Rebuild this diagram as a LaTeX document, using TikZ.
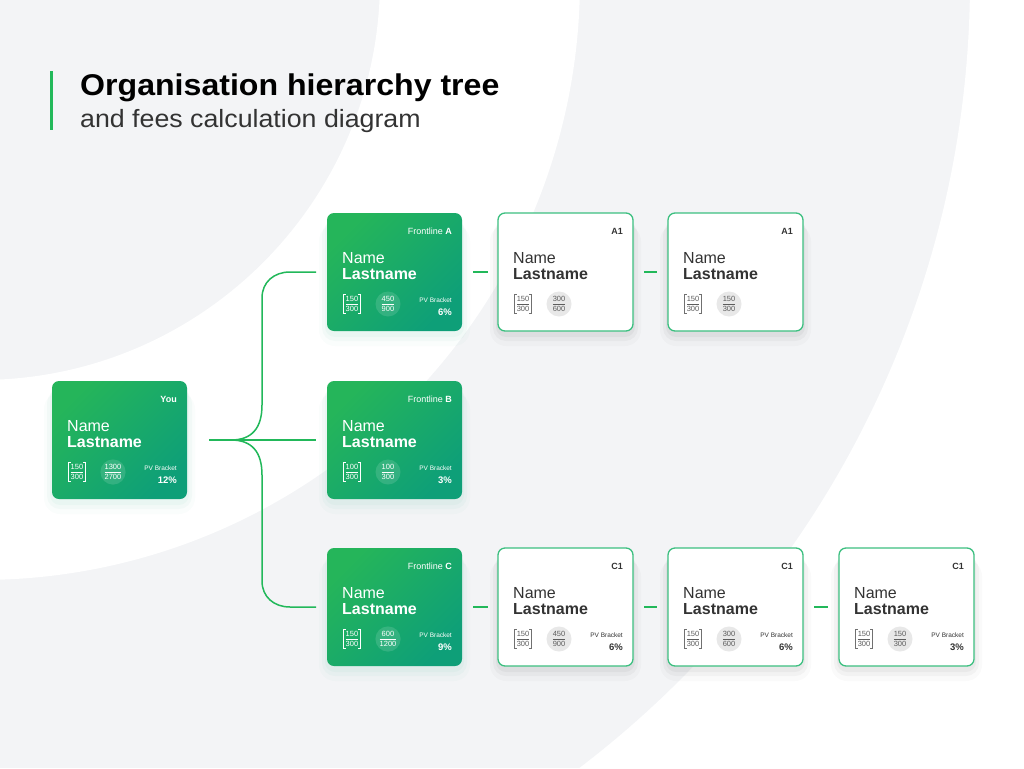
\documentclass[tikz,border=0pt]{standalone}
\usepackage{fontspec}
\setmainfont{Liberation Sans}
\usetikzlibrary{positioning}
\definecolor{gtop}{HTML}{25B55A}
\definecolor{gbot}{HTML}{0E9F78}
\definecolor{glink}{HTML}{22B85A}
\definecolor{wedge}{HTML}{3CBF80}
\definecolor{ink}{HTML}{333333}
\definecolor{bgray}{HTML}{F3F4F6}
\tikzset{
    x=1pt, y=-1pt,
    gcard/.style={rounded corners=7pt,minimum width=135pt,minimum height=118pt,inner sep=0pt,outer sep=0pt,
        top color=gtop,bottom color=gbot,shading angle=45},
    wcard/.style={rounded corners=7pt,minimum width=135pt,minimum height=118pt,inner sep=0pt,outer sep=0pt,
        draw=wedge,line width=1.3pt,fill=white},
    gcard shd/.style={fill=gbot},
    wcard shd/.style={fill=black},
    gcard txt/.style={text=white,inner sep=0pt},
    wcard txt/.style={text=ink,inner sep=0pt},
    gcard num/.style={text=white,inner xsep=2pt,inner ysep=0pt,font=\fontsize{7.5}{8.5}\selectfont},
    wcard num/.style={text=ink!80,inner xsep=2pt,inner ysep=0pt,font=\fontsize{7.5}{8.5}\selectfont},
    gcard brk/.style={draw=white,line width=0.5pt},
    wcard brk/.style={draw=ink!70,line width=0.5pt},
    gcard circ/.style={circle,minimum size=25pt,inner sep=0pt,fill=white,fill opacity=0.13,text opacity=1,
        text=white,font=\fontsize{7.5}{8.5}\selectfont},
    wcard circ/.style={circle,minimum size=25pt,inner sep=0pt,fill=black!9,
        text=ink!80,font=\fontsize{7.5}{8.5}\selectfont},
    link/.style={draw=glink,line width=1.5pt},
}
\newcommand{\frc}[2]{{\renewcommand{\arraystretch}{0}%
    \begin{tabular}{@{}c@{}}\rule[-2.5pt]{0pt}{9pt}#1\\\hline\rule[-1.5pt]{0pt}{9.5pt}#2\end{tabular}}}
% id, style, top-left, tag, bracket, circle, pv
\newcommand{\card}[9]{%
    \coordinate (#1-tl) at (#3);
    \fill[#2 shd,opacity=0.035,rounded corners=10pt] ([shift={(-2,6)}]#1-tl) rectangle ([shift={(137,124)}]#1-tl);
    \fill[#2 shd,opacity=0.03,rounded corners=13pt] ([shift={(-5,9)}]#1-tl) rectangle ([shift={(140,128)}]#1-tl);
    \fill[#2 shd,opacity=0.02,rounded corners=16pt] ([shift={(-8,12)}]#1-tl) rectangle ([shift={(143,133)}]#1-tl);
    \node[#2,anchor=north west] (#1) at (#1-tl) {};
    \node[#2 txt,anchor=base east,font=\fontsize{9}{10}\selectfont] at ([shift={(-10,21)}]#1.north west -| #1.east) {#4};
    \node[#2 txt,anchor=base west,font=\fontsize{16}{18}\selectfont] at ([shift={(15,50)}]#1.north west) {Name};
    \node[#2 txt,anchor=base west,font=\bfseries\fontsize{16}{18}\selectfont] at ([shift={(15,66)}]#1.north west) {Lastname};
    \node[#2 num] (#1-b) at ([shift={(25,91)}]#1.north west) {\frc{#5}{#6}};
    \draw[#2 brk] ([xshift=2pt]#1-b.north west) -- (#1-b.north west) -- (#1-b.south west) -- ([xshift=2pt]#1-b.south west);
    \draw[#2 brk] ([xshift=-2pt]#1-b.north east) -- (#1-b.north east) -- (#1-b.south east) -- ([xshift=-2pt]#1-b.south east);
    \node[#2 circ] (#1-c) at ([shift={(61,91)}]#1.north west) {\frc{#7}{#8}};
    \def\pvval{#9}%
    \ifx\pvval\empty\else
        \node[#2 txt,anchor=base east,font=\fontsize{6.5}{7.5}\selectfont] at ([shift={(-10,89)}]#1.north west -| #1.east) {PV Bracket};
        \node[#2 txt,anchor=base east,font=\bfseries\fontsize{9.5}{11}\selectfont] at ([shift={(-10,102)}]#1.north west -| #1.east) {#9};
    \fi
}

\begin{document}
\begin{tikzpicture}
    \useasboundingbox (0,0) rectangle (1024,768);
    % background rings
    \begin{scope}
        \clip (0,0) rectangle (1024,768);
        \fill[bgray] (0,0) rectangle (1024,768);
        \fill[white,even odd rule] (-20,-20) circle (600pt) (-20,-20) circle (400pt);
        \fill[white,even odd rule] (-20,-20) circle (1600pt) (-20,-20) circle (990pt);
    \end{scope}

    % title
    \fill[glink] (50,71) rectangle (53,130);
    \node[anchor=base west,inner sep=0pt,font=\bfseries\fontsize{30}{34}\selectfont] (title) at (80,95) {\scalebox{1.07}[1]{Organisation hierarchy tree}};
    \node[anchor=base west,inner sep=0pt,font=\fontsize{25}{29}\selectfont,text=black!80] (subtitle) at (80,127) {\scalebox{1.07}[1]{and fees calculation diagram}};

    % cards
    \card{you}{gcard}{52,381}{\textbf{You}}{150}{300}{1300}{2700}{12\%}
    \card{fa}{gcard}{327,213}{Frontline \textbf{A}}{150}{300}{450}{900}{6\%}
    \card{fb}{gcard}{327,381}{Frontline \textbf{B}}{100}{300}{100}{300}{3\%}
    \card{fc}{gcard}{327,548}{Frontline \textbf{C}}{150}{300}{600}{1200}{9\%}
    \card{a1}{wcard}{498,213}{\textbf{A1}}{150}{300}{300}{600}{}
    \card{a2}{wcard}{668,213}{\textbf{A1}}{150}{300}{150}{300}{}
    \card{c1}{wcard}{498,548}{\textbf{C1}}{150}{300}{450}{900}{6\%}
    \card{c2}{wcard}{668,548}{\textbf{C1}}{150}{300}{300}{600}{6\%}
    \card{c3}{wcard}{839,548}{\textbf{C1}}{150}{300}{150}{300}{3\%}

    % tree links
    \coordinate[right=22pt of you] (trunk);
    \coordinate[right=44pt of you] (fork);
    \coordinate[left=11pt of fa] (fa-in);
    \coordinate[left=11pt of fb] (fb-in);
    \coordinate[left=11pt of fc] (fc-in);
    \draw[link] (trunk) -- (fb-in);
    \draw[link] (fork) .. controls (252,440) and (262,428) .. (262,405) -- (262,298)
        .. controls (262,282) and (274,272) .. (290,272) -- (fa-in);
    \draw[link] (fork) .. controls (252,440) and (262,452) .. (262,475) -- (262,581)
        .. controls (262,597) and (274,607) .. (290,607) -- (fc-in);
    \draw[link] ([xshift=11pt]fa.east) -- ([xshift=-10pt]a1.west);
    \draw[link] ([xshift=11pt]a1.east) -- ([xshift=-11pt]a2.west);
    \draw[link] ([xshift=11pt]fc.east) -- ([xshift=-10pt]c1.west);
    \draw[link] ([xshift=11pt]c1.east) -- ([xshift=-11pt]c2.west);
    \draw[link] ([xshift=11pt]c2.east) -- ([xshift=-11pt]c3.west);
\end{tikzpicture}
\end{document}
